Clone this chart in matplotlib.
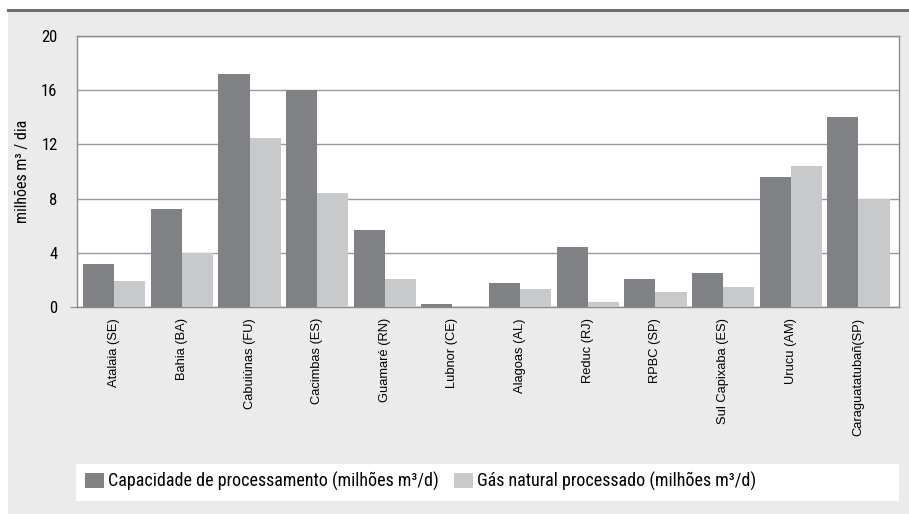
import matplotlib
matplotlib.use("Agg")
import matplotlib.pyplot as plt
from matplotlib import font_manager
from matplotlib.patches import Rectangle, Patch
from matplotlib.lines import Line2D
import numpy as np

# data
plantas = ["Atalaia (SE)", "Bahia (BA)", "Cabuiúnas (FU)", "Cacimbas (ES)", "Guamaré (RN)",
           "Lubnor (CE)", "Alagoas (AL)", "Reduc (RJ)", "RPBC (SP)", "Sul Capixaba (ES)",
           "Urucu (AM)", "Caraguatatubañ(SP)"]
capacidade = [3.2, 7.2, 17.2, 16.0, 5.7, 0.2, 1.8, 4.4, 2.1, 2.5, 9.6, 14.0]
processado = [1.9, 4.0, 12.5, 8.4, 2.1, 0.05, 1.3, 0.4, 1.1, 1.5, 10.4, 8.0]
yticks = [0, 4, 8, 12, 16, 20]
label_cap = "Capacidade de processamento (milhões m³/d)"
label_gas = "Gás natural processado (milhões m³/d)"
ylabel = "milhões m³ / dia"

dark = "#808185"
light = "#c8c9cb"
panel = "#ebebeb"

# pick a condensed face if one is around
names = {f.name for f in font_manager.fontManager.ttflist}
narrow = "Roboto"
for cand in ["Liberation Sans Narrow", "Roboto Condensed", "Open Sans Condensed"]:
    if cand in names:
        narrow = cand
        break
cond = narrow != "Roboto"

W, H = 909, 514
fig = plt.figure(figsize=(W / 100, H / 100), dpi=100, facecolor="white")

# grey panel and dark rule at the top
fig.patches.append(Rectangle((8 / W, 0), 1 - 8 / W, 1 - 11 / H, transform=fig.transFigure,
                             facecolor=panel, edgecolor="none", zorder=-3))
fig.lines.append(Line2D([8 / W, 1], [1 - 9.5 / H, 1 - 9.5 / H], transform=fig.transFigure,
                        color="#6e6e6e", lw=2.2, zorder=-2))
# white legend strip
fig.patches.append(Rectangle((76 / W, 1 - 501 / H), 823 / W, 37 / H, transform=fig.transFigure,
                             facecolor="white", edgecolor="none", zorder=-2))

ax = fig.add_axes([77 / W, 1 - 307 / H, 822 / W, 271 / H])
ax.set_facecolor("white")

x = np.arange(len(plantas))
w = 0.46
ax.bar(x - w / 2, capacidade, w, color=dark, zorder=3)
ax.bar(x + w / 2, processado, w, color=light, zorder=3)

ax.set_xlim(-0.55, 11.6)
ax.set_ylim(0, 20)
ax.set_yticks(yticks)
ax.set_yticklabels([str(v) for v in yticks], family=narrow, fontsize=12 if cond else 10.5)
ax.set_xticks(x)
ax.set_xticklabels(plantas, rotation=90, family="Liberation Sans", fontsize=9.3)
ax.tick_params(axis="x", length=0, pad=8)
ax.tick_params(axis="y", length=5, color="#888888", pad=9)
for i, t in enumerate(ax.yaxis.get_major_ticks()):
    if i > 0:
        t.tick1line.set_visible(False)

ax.set_axisbelow(True)
ax.yaxis.grid(True, color="#9a9a9a", lw=1)
for s in ax.spines.values():
    s.set_color("#8a8a8a")
    s.set_linewidth(1)

ax.set_ylabel(ylabel, family=narrow, fontsize=11.5 if cond else 9.5)
ax.yaxis.set_label_coords(-47 / 822, 0.5)

handles = [Patch(facecolor=dark, edgecolor="none"), Patch(facecolor=light, edgecolor="none")]
fs = 13 if cond else 11.8
fig.legend(handles, [label_cap, label_gas], ncol=2, frameon=False,
           loc="center left", bbox_to_anchor=(85 / W, 1 - 481.5 / H),
           borderpad=0, borderaxespad=0, prop={"family": narrow, "size": fs},
           handlelength=19 / (fs * 100 / 72), handleheight=17 / (fs * 100 / 72),
           handletextpad=4 / (fs * 100 / 72), columnspacing=15 / (fs * 100 / 72))

fig.savefig("out.png", dpi=100, facecolor="white")
